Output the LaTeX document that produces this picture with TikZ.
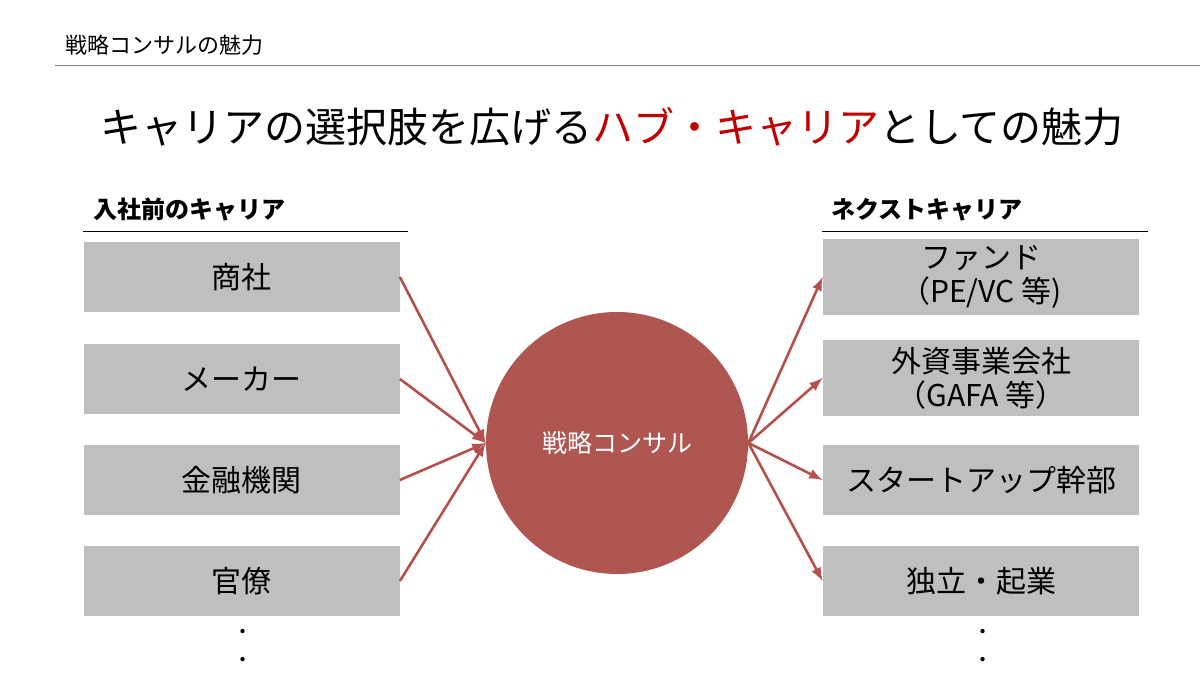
\documentclass[tikz,border=0pt]{standalone}
\usepackage{fontspec}
\setmainfont{Noto Sans CJK JP}
\newfontfamily\cjk{Noto Sans CJK JP}
\usetikzlibrary{positioning}
\definecolor{boxgray}{HTML}{BFBFBF}
\definecolor{hubred}{HTML}{B05651}
\definecolor{arrowred}{HTML}{B5504C}
\definecolor{headred}{HTML}{C00000}
\tikzset{
  career box/.style={
    fill=boxgray,
    minimum width=158pt,
    minimum height=35pt,
    align=center,
    font=\fontsize{15}{17}\selectfont,
  },
  career arrow/.style={-latex, arrowred, line width=1.3pt},
}
\begin{document}
\begin{tikzpicture}[x=0.5pt, y=-0.5pt]
      \useasboundingbox (0,0) rectangle (1200,673);

      \node[anchor=west, font=\fontsize{11}{12}\selectfont] (title) at (58,45) {戦略コンサルの魅力};
      \draw[gray] (55,65) -- (1200,65);
      \node[font=\fontsize{20.5}{24}\selectfont] (head) at (612,127)
        {キャリアの選択肢を広げる\textcolor{headred}{ハブ・キャリア}としての魅力};

      \node[anchor=west, font=\fontsize{12}{13}\selectfont\bfseries] (before) at (86,210) {入社前のキャリア};
      \draw (83,231) -- (408,231);
      \node[anchor=west, font=\fontsize{12}{13}\selectfont\bfseries] (next) at (824,210) {ネクストキャリア};
      \draw (822,231) -- (1148,231);

      \node[career box] (a1) at (241.5,277) {商社};
      \node[career box] (a2) at (241.5,379) {メーカー};
      \node[career box] (a3) at (241.5,480) {金融機関};
      \node[career box] (a4) at (241.5,581) {官僚};

      \node[career box] (b1) at (981,277) {ファンド\\（PE/VC 等)};
      \node[career box] (b2) at (981,378) {外資事業会社\\（GAFA 等）};
      \node[career box] (b3) at (981,480) {スタートアップ幹部};
      \node[career box] (b4) at (981,581) {独立・起業};

      \node[circle, fill=hubred, minimum size=131pt, text=white,
            font=\fontsize{12.5}{14}\selectfont] (hub) at (617,443) {戦略コンサル};

      \node[align=center, inner sep=0pt] (adots) at (243,646) {\textbf{.}\\[2pt]\textbf{.}};
      \node[align=center, inner sep=0pt] (bdots) at (983,646) {\textbf{.}\\[2pt]\textbf{.}};

      \foreach \n in {a1,a2,a3,a4}
        \draw[career arrow] (\n.east) -- (hub.west);
      \foreach \n in {b1,b2,b3,b4}
        \draw[career arrow] (hub.east) -- (\n.west);
\end{tikzpicture}
\end{document}
